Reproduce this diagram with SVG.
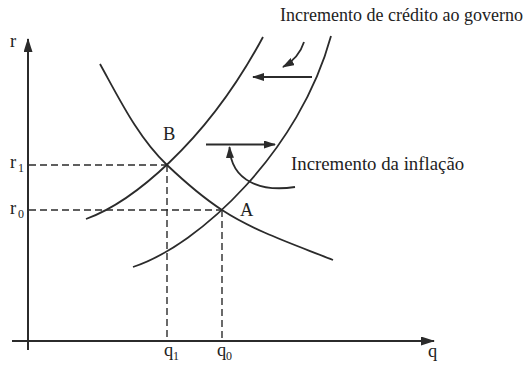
<svg xmlns="http://www.w3.org/2000/svg" width="529" height="365" viewBox="0 0 529 365">
<defs>
<style>
.ax{stroke:#2b2b2b;stroke-width:2;fill:none}
.cv{stroke:#2b2b2b;stroke-width:1.8;fill:none}
.ds{stroke:#2b2b2b;stroke-width:1.4;fill:none;stroke-dasharray:7,4}
.ar{stroke:#2b2b2b;stroke-width:1.8;fill:none}
text{font-family:"Liberation Serif","Times New Roman",serif;fill:#222222}
.lb{font-size:18.5px}
.sb{font-size:12px}
</style>
<marker id="ah" viewBox="0 0 12 8" refX="11" refY="4" markerWidth="12" markerHeight="8" markerUnits="userSpaceOnUse" orient="auto">
<path d="M0,0 L12,4 L0,8 Z" fill="#2b2b2b"/>
</marker>
<marker id="axh" viewBox="0 0 14 9" refX="13" refY="4.5" markerWidth="14" markerHeight="9" markerUnits="userSpaceOnUse" orient="auto">
<path d="M0,0 L14,4.5 L0,9 Z" fill="#2b2b2b"/>
</marker>
</defs>
<rect width="529" height="365" fill="#ffffff"/>
<g id="axes">
<line class="ax" x1="28" y1="350" x2="28" y2="39" marker-end="url(#axh)"/>
<line class="ax" x1="12" y1="341" x2="434" y2="341" marker-end="url(#axh)"/>
<text class="lb" x="10" y="47">r</text>
<text class="lb" x="428" y="357">q</text>
</g>
<g id="curve-demand">
<path class="cv" d="M100,64 C119.4,99 138,137.4 167,165 C184.4,181.5 201.9,196.9 222,210 C255.5,231.8 296,245.1 333,260"/>
</g>
<g id="curve-supply-0">
<path class="cv" d="M133,267 C200,245 300,150 331,36"/>
</g>
<g id="curve-supply-1">
<path class="cv" d="M86,219 C130,203 205,145 263,37"/>
</g>
<g id="connectors">
<line class="ds" x1="29" y1="165" x2="167" y2="165"/>
<line class="ds" x1="29" y1="210" x2="222" y2="210"/>
<line class="ds" x1="167" y1="165" x2="167" y2="341"/>
<line class="ds" x1="222" y1="210" x2="222" y2="341"/>
<line class="ar" x1="312" y1="77" x2="253" y2="77" marker-end="url(#ah)"/>
<path class="ar" d="M304,42 Q299,58 283,67" marker-end="url(#ah)"/>
<line class="ar" x1="206" y1="144.5" x2="275" y2="144.5" marker-end="url(#ah)"/>
<path class="ar" d="M295,187 C262,192 231,182 229.5,147" marker-end="url(#ah)"/>
</g>
<g id="point-B"><text class="lb" x="163" y="140">B</text></g>
<g id="point-A"><text class="lb" x="240" y="216">A</text></g>
<g id="label-r1"><text class="lb" x="10" y="168">r</text><text class="sb" x="18" y="172">1</text></g>
<g id="label-r0"><text class="lb" x="10" y="214">r</text><text class="sb" x="18" y="218">0</text></g>
<g id="label-q1"><text class="lb" x="164" y="356">q</text><text class="sb" x="173" y="360">1</text></g>
<g id="label-q0"><text class="lb" x="217" y="356">q</text><text class="sb" x="226" y="360">0</text></g>
<g id="label-credito"><text x="280" y="21" style="font-size:18px">Incremento de crédito ao governo</text></g>
<g id="label-inflacao"><text x="291" y="170" style="font-size:18.8px">Incremento da inflação</text></g>
</svg>
